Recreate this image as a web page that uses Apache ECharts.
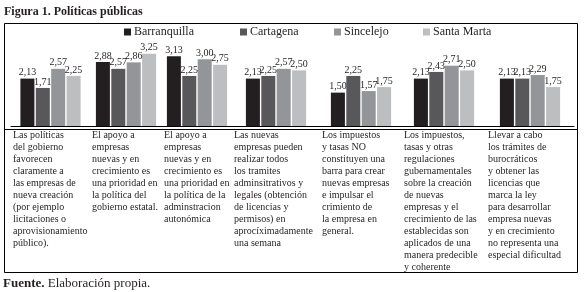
<!DOCTYPE html>
<html>
  <head>
    <title></title>
    <meta charset="UTF-8" />
    <script src="https://cdn.jsdelivr.net/npm/echarts@6/dist/echarts.min.js"></script>
  </head>
  <body style="margin:0">
    <div id="main"></div>
    <script>
      const width = 584;
      const height = 292;
      const main = document.getElementById('main');
      main.style.width = `${width}px`;
      main.style.height = `${height}px`;

      const cities = ['Barranquilla', 'Cartagena', 'Sincelejo', 'Santa Marta'];
      const colors = ['#231f20', '#58585b', '#939598', '#bdbec0'];

      const barranquilla = [2.13, 2.88, 3.13, 2.13, 1.5, 2.13, 2.13];
      const cartagena = [1.71, 2.57, 2.25, 2.25, 2.25, 2.43, 2.13];
      const sincelejo = [2.57, 2.86, 3.0, 2.57, 1.57, 2.71, 2.29];
      const santaMarta = [2.25, 3.25, 2.75, 2.5, 1.75, 2.5, 1.75];
      const values = [barranquilla, cartagena, sincelejo, santaMarta];

      const statements = [
        'Las políticas\ndel gobierno\nfavorecen\nclaramente a\nlas empresas de\nnueva creación\n(por ejemplo\nlicitaciones o\naprovisionamiento\npúblico).',
        'El apoyo a\nempresas\nnuevas y en\ncrecimiento es\nuna prioridad en\nla política del\ngobierno estatal.',
        'El apoyo a\nempresas\nnuevas y en\ncrecimiento es\nuna prioridad en\nla política de la\nadminstracion\nautonómica',
        'Las nuevas\nempresas pueden\nrealizar todos\nlos tramites\nadminsitrativos y\nlegales (obtención\nde licencias y\npermisos) en\naprocíximadamente\nuna semana',
        'Los impuestos\ny tasas NO\nconstituyen una\nbarra para crear\nnuevas empresas\ne impulsar el\ncrimiento de\nla empresa en\ngeneral.',
        'Los impuestos,\ntasas y otras\nregulaciones\ngubernamentales\nsobre la creación\nde nuevas\nempresas y el\ncrecimiento de las\nestablecidas son\naplicados de una\nmanera predecible\ny coherente',
        'Llevar a cabo\nlos trámites de\nburocráticos\ny obtener las\nlicencias que\nmarca la ley\npara desarrollar\nempresa nuevas\ny en crecimiento\nno representa una\nespecial dificultad'
      ];

      // column borders of the table under the bars
      const edges = [11, 90, 162, 232, 320, 402, 486, 574];
      const rowLines = [118, 120, 121, 121, 120, 142, 136];
      const legendLeft = [124, 240, 334, 423];

      const font = 'Liberation Serif';
      const fmt = (p) => p.value.toFixed(2).replace('.', ',');

      const grids = [];
      const xAxes = [];
      const yAxes = [];
      const series = [];
      const titles = [];

      statements.forEach((text, i) => {
        grids.push({
          left: edges[i],
          width: edges[i + 1] - edges[i],
          top: 37,
          bottom: 166,
        });
        xAxes.push({
          type: 'category',
          gridIndex: i,
          data: [text],
          offset: 3,
          axisLine: { lineStyle: { color: '#000', width: 1 } },
          axisTick: { length: rowLines[i], lineStyle: { color: '#000', width: 1 } },
          axisLabel: { show: false },
        });
        yAxes.push({
          type: 'value',
          gridIndex: i,
          min: 0,
          max: 4,
          show: false,
        });
        cities.forEach((name, k) => {
          series.push({
            name,
            type: 'bar',
            xAxisIndex: i,
            yAxisIndex: i,
            data: [values[k][i]],
            barWidth: 14,
            barGap: '10%',
            itemStyle: { color: colors[k] },
            label: {
              show: true,
              position: 'top',
              distance: 1,
              formatter: fmt,
              fontFamily: font,
              fontSize: 10,
              color: '#231f20',
            },
            animation: false,
          });
        });
        titles.push({
          text,
          left: edges[i] + 2,
          top: 129,
          padding: 0,
          textStyle: {
            fontFamily: font,
            fontSize: 10,
            lineHeight: 12,
            fontWeight: 'normal',
            color: '#231f20',
          },
        });
      });

      titles.push({
        text: 'Figura 1. Políticas públicas',
        left: 4,
        top: 6,
        padding: 0,
        textStyle: { fontFamily: font, fontSize: 12, fontWeight: 'bold', color: '#231f20' },
      });
      titles.push({
        text: '{b|Fuente.} Elaboración propia.',
        left: 3,
        top: 277,
        padding: 0,
        textStyle: {
          fontFamily: font,
          fontSize: 13,
          fontWeight: 'normal',
          color: '#231f20',
          rich: { b: { fontFamily: font, fontSize: 13, fontWeight: 'bold', color: '#231f20' } },
        },
      });

      const legends = cities.map((name, k) => ({
        data: [name],
        left: legendLeft[k],
        top: 26,
        padding: 0,
        icon: 'rect',
        itemWidth: 7,
        itemHeight: 7,
        itemGap: 0,
        textStyle: { fontFamily: font, fontSize: 12, color: '#231f20', padding: [0, 0, 0, -2] },
      }));

      const myChart = echarts.init(main, null, { renderer: 'canvas' });
      myChart.setOption({
        backgroundColor: '#fff',
        animation: false,
        title: titles,
        legend: legends,
        grid: grids,
        xAxis: xAxes,
        yAxis: yAxes,
        series,
        graphic: [
          {
            type: 'rect',
            shape: { x: 4.5, y: 23.5, width: 573, height: 249 },
            style: { fill: 'none', stroke: '#000', lineWidth: 1 },
          },
          {
            type: 'line',
            shape: { x1: 4.5, y1: 129.5, x2: 577.5, y2: 129.5 },
            style: { stroke: '#000', lineWidth: 1 },
          },
        ],
      });
    </script>
  </body>
</html>
